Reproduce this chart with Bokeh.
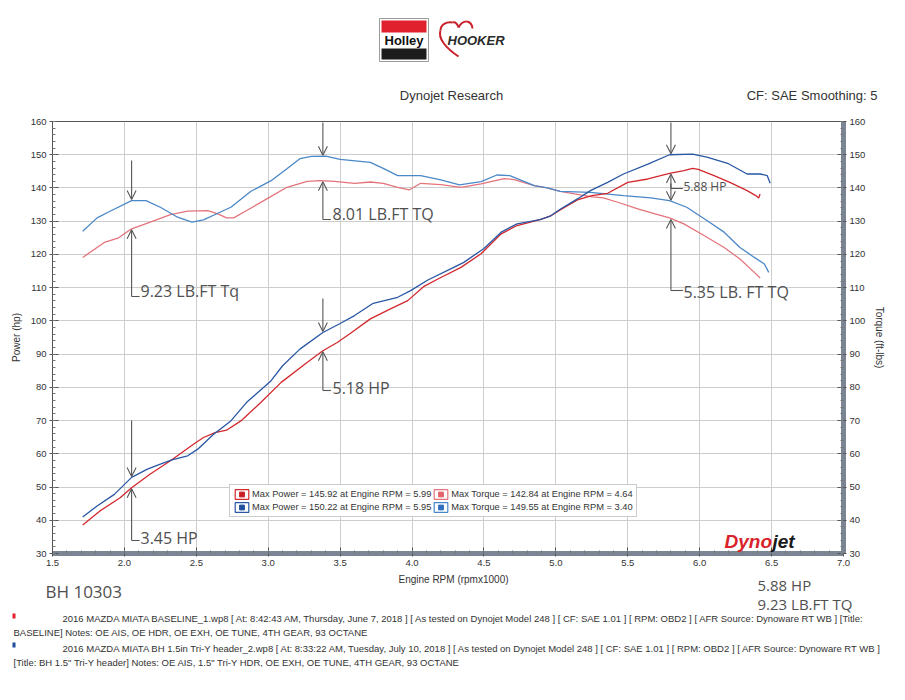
import numpy as np
from bokeh.plotting import figure
from bokeh.models import (Range1d, LinearAxis, FixedTicker, Label, Arrow, OpenHead,
                          Legend, LegendItem)
from bokeh.layouts import column, row
from bokeh.embed import file_html
from bokeh.resources import INLINE
from bokeh.core.properties import value

# ---------------- DATA ----------------
# Blue run (BH 1.5in Tri-Y header) - power
bp_rpm = [1.71, 1.81, 1.93, 2.05, 2.16, 2.25, 2.33, 2.44, 2.51, 2.62, 2.74, 2.85, 3.02, 3.10,
          3.22, 3.38, 3.50, 3.60, 3.73, 3.90, 3.99, 4.11, 4.29, 4.36, 4.50, 4.62, 4.73, 4.89,
          4.96, 5.03, 5.15, 5.24, 5.36, 5.47, 5.64, 5.79, 5.95, 6.05, 6.20, 6.33, 6.42, 6.47, 6.49]
bp_hp = [41.0, 44.3, 47.8, 52.9, 55.4, 56.9, 58.2, 59.4, 61.4, 65.9, 69.9, 75.5, 82.0, 86.5,
         91.5, 96.5, 99.2, 101.6, 105.3, 107.1, 109.1, 112.3, 116.1, 117.6, 121.8, 126.7, 129.2, 130.5,
         131.5, 133.6, 136.7, 139.2, 141.7, 144.2, 147.2, 150.0, 150.2, 149.3, 147.3, 144.2, 144.2, 143.7, 141.4]
# Red run (baseline) - power
rp_rpm = [1.71, 1.83, 1.97, 2.05, 2.18, 2.32, 2.48, 2.55, 2.63, 2.71, 2.81, 2.95, 3.09, 3.27,
          3.38, 3.48, 3.57, 3.71, 3.85, 3.97, 4.08, 4.18, 4.34, 4.48, 4.62, 4.73, 4.89, 4.96,
          5.03, 5.15, 5.25, 5.36, 5.50, 5.64, 5.79, 5.89, 5.95, 5.99, 6.10, 6.21, 6.33, 6.39, 6.41, 6.42]
rp_hp = [38.6, 42.8, 46.8, 49.8, 53.9, 57.9, 62.9, 64.9, 66.4, 67.1, 69.9, 75.5, 81.5, 87.5,
         91.0, 93.5, 96.2, 100.6, 103.6, 106.1, 110.3, 112.6, 116.1, 120.2, 126.2, 128.7, 130.5, 131.5,
         133.4, 136.4, 137.7, 138.4, 141.7, 142.7, 144.4, 145.2, 145.9, 145.6, 143.7, 141.7, 139.2, 137.7, 137.0, 138.2]
# Blue run - torque
bt_rpm = [1.71, 1.81, 1.90, 2.05, 2.15, 2.25, 2.37, 2.47, 2.55, 2.65, 2.74, 2.88, 3.02, 3.13,
          3.22, 3.30, 3.40, 3.50, 3.71, 3.80, 3.90, 4.06, 4.20, 4.33, 4.48, 4.59, 4.68, 4.85,
          4.94, 5.03, 5.24, 5.47, 5.66, 5.79, 5.91, 6.05, 6.17, 6.28, 6.38, 6.45, 6.48]
bt_tq = [127.0, 131.0, 133.0, 136.2, 136.2, 134.2, 131.2, 129.7, 130.4, 132.4, 134.2, 139.0, 142.2, 145.8,
         148.8, 149.5, 149.55, 148.6, 147.7, 145.9, 143.7, 143.7, 142.4, 140.9, 141.9, 143.9, 143.7, 140.7,
         140.0, 139.0, 138.7, 137.7, 137.0, 136.2, 134.2, 130.2, 126.7, 122.1, 119.1, 117.1, 114.6]
# Red run - torque
rt_rpm = [1.71, 1.86, 1.96, 2.05, 2.18, 2.32, 2.44, 2.58, 2.65, 2.71, 2.76, 2.85, 2.99, 3.13,
          3.27, 3.36, 3.46, 3.60, 3.71, 3.80, 3.90, 3.98, 4.06, 4.20, 4.34, 4.48, 4.64, 4.71,
          4.85, 4.94, 5.03, 5.13, 5.24, 5.33, 5.43, 5.57, 5.69, 5.79, 5.89, 6.03, 6.17, 6.28, 6.38, 6.42]
rt_tq = [119.1, 123.6, 125.0, 127.7, 129.7, 132.0, 133.0, 133.2, 132.2, 131.0, 131.0, 133.2, 136.7, 140.2,
         142.0, 142.2, 142.0, 141.4, 141.8, 141.4, 140.2, 139.4, 141.4, 141.0, 140.2, 141.2, 142.84, 142.5,
         140.7, 140.0, 139.0, 138.2, 137.4, 137.0, 135.7, 133.7, 132.2, 131.0, 129.2, 125.7, 122.1, 118.6, 114.6, 112.9]

legend_labels = ["Max Power = 145.92 at Engine RPM = 5.99",
                 "Max Torque = 142.84 at Engine RPM = 4.64",
                 "Max Power = 150.22 at Engine RPM = 5.95",
                 "Max Torque = 149.55 at Engine RPM = 3.40"]
x_ticks = [1.5, 2.0, 2.5, 3.0, 3.5, 4.0, 4.5, 5.0, 5.5, 6.0, 6.5, 7.0]
x_tick_labels = ["1.5", "2.0", "2.5", "3.0", "3.5", "4.0", "4.5", "5.0", "5.5", "6.0", "6.5", "7.0"]
y_ticks = [30, 40, 50, 60, 70, 80, 90, 100, 110, 120, 130, 140, 150, 160]

footer_lines = [
    "2016 MAZDA MIATA BASELINE_1.wp8 [ At: 8:42:43 AM, Thursday, June 7, 2018 ] [ As tested on Dynojet Model 248 ] [ CF: SAE 1.01 ] [ RPM: OBD2 ] [ AFR Source: Dynoware RT WB ] [Title:",
    "BASELINE]  Notes: OE AIS, OE HDR, OE EXH, OE TUNE, 4TH GEAR, 93 OCTANE",
    "2016 MAZDA MIATA BH 1.5in Tri-Y header_2.wp8 [ At: 8:33:22 AM, Tuesday, July 10, 2018 ] [ As tested on Dynojet Model 248 ] [ CF: SAE 1.01 ] [ RPM: OBD2 ] [ AFR Source: Dynoware RT WB ]",
    "[Title: BH 1.5\" Tri-Y header]  Notes: OE AIS, 1.5\" Tri-Y HDR, OE EXH, OE TUNE, 4TH GEAR, 93 OCTANE",
]

# ---------------- STYLE ----------------
FONT = "Liberation Sans"
HAND = "Open Sans"
TXT = "#333333"
PEN = "#555555"
HANDC = "#505050"
BLUE_PWR = "#2957a4"
RED_PWR = "#d3282e"
BLUE_TQ = "#4a88c8"
RED_TQ = "#e4747c"
BAR = "#7c8593"

# page-pixel helpers for decorations inside the chart frame (x 52..843, y 121..553)
def dx(X):
    return 1.5 + (X - 52) * 5.5 / 791.0

def dy(Y):
    return 160 - (Y - 121) * 130.0 / 432.0


def deco_fig(height, y_top):
    f = figure(width=905, height=height, x_range=Range1d(0, 905),
               y_range=Range1d(y_top + height, y_top),
               x_axis_type=None, y_axis_type=None, output_backend="svg", toolbar_location=None,
               min_border=0, outline_line_color=None, background_fill_color="white",
               border_fill_color="white")
    f.grid.visible = False
    return f


def ftext(f, X, Y, txt, size, color=TXT, font=FONT, style="normal", align="left"):
    f.text(x=[X], y=[Y], text=[txt], text_font=value(font), text_font_size=size,
           text_color=color, text_font_style=style, text_align=align, text_baseline="middle")

# ---------------- HEADER ----------------
h = deco_fig(110, 0)
h.quad(left=[379], right=[428], top=[18], bottom=[61], fill_color="white", line_color="#9a9a9a")
h.quad(left=[381], right=[426], top=[20], bottom=[32], fill_color="#e0202c", line_color=None)
h.quad(left=[381], right=[426], top=[48], bottom=[59], fill_color="#1c1c1c", line_color=None)
ftext(h, 403.5, 40, "Holley", "13px", color="#111111", style="bold", align="center")
h.bezier(x0=[458, 440, 452, 458, 466], y0=[56, 30, 22, 27, 21],
         x1=[440, 452, 458, 466, 472], y1=[30, 22, 27, 21, 28],
         cx0=[446, 440, 455, 460, 469], cy0=[48, 24, 21, 23, 21],
         cx1=[437, 446, 457, 463, 472], cy1=[38, 21, 24, 21, 24],
         line_color="#c8202a", line_width=2)
ftext(h, 447, 40, "HOOKER", "13px", color="#2a2a2a", style="bold italic")
ftext(h, 451, 95, "Dynojet Research", "13px", align="center")
ftext(h, 877, 95, "CF: SAE Smoothing: 5", "13px", align="right")

# ---------------- MAIN CHART ----------------
p = figure(frame_width=791, frame_height=432, min_border_left=52, min_border_right=62,
           min_border_top=11, min_border_bottom=19,
           x_range=Range1d(1.5, 7.0), y_range=Range1d(30, 160),
           output_backend="svg", toolbar_location=None,
           background_fill_color="white", border_fill_color="white",
           outline_line_color="#555555", outline_line_width=1)
p.extra_y_ranges = {"tq": Range1d(30, 160)}

xt = FixedTicker(ticks=x_ticks, minor_ticks=list(np.round(np.arange(1.5, 7.0001, 0.1), 2)))
yt = FixedTicker(ticks=y_ticks, minor_ticks=list(range(30, 161, 2)))

xa = p.xaxis[0]
xa.ticker = xt
xa.major_label_overrides = {v: s for v, s in zip(x_ticks, x_tick_labels)}

ya = p.yaxis[0]
ya.ticker = yt
ya.axis_label = "Power (hp)"

yr = LinearAxis(y_range_name="tq", ticker=yt, axis_label="Torque (ft-lbs)")
p.add_layout(yr, "right")

for ax in (xa, ya, yr):
    ax.major_label_text_font = FONT
    ax.major_label_text_font_size = "9.5px"
    ax.major_label_text_color = TXT
    ax.axis_label_text_font = FONT
    ax.axis_label_text_font_size = "10px"
    ax.axis_label_text_font_style = "normal"
    ax.axis_label_text_color = TXT
    ax.major_tick_line_color = "#555555"
    ax.minor_tick_line_color = "#777777"
    ax.major_tick_in = 6
    ax.major_tick_out = 3
    ax.minor_tick_in = 3
    ax.minor_tick_out = 0
    ax.major_label_standoff = 3
    ax.axis_label_standoff = 6
xa.axis_line_color = BAR
xa.axis_line_width = 5
yr.axis_line_color = BAR
yr.axis_line_width = 5
ya.axis_line_color = "#555555"
ya.axis_line_width = 1

p.xgrid.ticker = xt
p.ygrid.ticker = yt
p.xgrid.grid_line_color = "#cdcdcd"
p.ygrid.grid_line_color = "#cdcdcd"

lw = 1.3
p.line(rt_rpm, rt_tq, line_color=RED_TQ, line_width=lw, y_range_name="tq")
p.line(bt_rpm, bt_tq, line_color=BLUE_TQ, line_width=lw, y_range_name="tq")
p.line(rp_rpm, rp_hp, line_color=RED_PWR, line_width=lw)
p.line(bp_rpm, bp_hp, line_color=BLUE_PWR, line_width=lw)

# legend: icon-only renderers placed outside the visible range (never shown in the plot)
items = []
for lab, outline, fill in zip(legend_labels,
                              ["#d3282e", "#e4747c", "#2957a4", "#4a88c8"],
                              ["#c81e24", "#e4646c", "#1f4f9e", "#2f6fc0"]):
    rb = p.quad(left=[0.0], right=[0.1], top=[0.0], bottom=[-1.0], fill_color="white",
                line_color=outline, line_width=1.2)
    rs = p.scatter(x=[0.0], y=[0.0], marker="square", fill_color=fill, line_color=fill, size=5)
    items.append(LegendItem(label=lab, renderers=[rb, rs]))
leg = Legend(items=items, location=(177, 36), orientation="horizontal", ncols=2,
             label_text_font=FONT, label_text_font_size="9.3px", label_text_color=TXT,
             glyph_width=17, glyph_height=12, label_height=12, label_standoff=2,
             padding=3, spacing=1, margin=0, border_line_color="#999999",
             background_fill_color="white", background_fill_alpha=1.0)
p.add_layout(leg, "center")

# handwritten-style annotations
def head(s=9):
    return OpenHead(size=s, line_color=PEN, line_width=1.1)

def down_arrow(x, y_from, y_to):
    p.add_layout(Arrow(end=head(), x_start=x, y_start=y_from, x_end=x, y_end=y_to,
                       line_color=PEN, line_width=1.1))

def up_arrow_L(x, y_from, y_to, foot_px=8):
    p.add_layout(Arrow(end=head(), x_start=x, y_start=y_from, x_end=x, y_end=y_to,
                       line_color=PEN, line_width=1.1))
    p.add_layout(Arrow(end=None, x_start=x, y_start=y_from, x_end=x + foot_px * 5.5 / 791.0,
                       y_end=y_from, line_color=PEN, line_width=1.1))

def hand(x, y, txt, size="16px"):
    p.add_layout(Label(x=x, y=y, text=txt, text_font=HAND, text_font_size=size,
                       text_color=HANDC, text_baseline="middle"))

# 2.05 krpm torque
r = 2.05
down_arrow(r, dy(160), float(np.interp(r, bt_rpm, bt_tq)) + 0.3)
up_arrow_L(r, dy(296), float(np.interp(r, rt_rpm, rt_tq)) - 0.3)
hand(dx(140), dy(290), "9.23 LB.FT Tq")
# 2.05 krpm power
down_arrow(r, dy(420), float(np.interp(r, bp_rpm, bp_hp)) + 0.3)
up_arrow_L(r, dy(540), float(np.interp(r, rp_rpm, rp_hp)) - 0.3)
hand(dx(140), dy(537), "3.45 HP")
# 3.38 krpm torque
r = 3.38
down_arrow(r, dy(122), float(np.interp(r, bt_rpm, bt_tq)) + 0.3)
up_arrow_L(r, dy(219), float(np.interp(r, rt_rpm, rt_tq)) - 0.3)
hand(dx(332), dy(213), "8.01 LB.FT TQ")
# 3.38 krpm power
down_arrow(r, dy(298), float(np.interp(r, bp_rpm, bp_hp)) + 0.3)
up_arrow_L(r, dy(390), float(np.interp(r, rp_rpm, rp_hp)) - 0.3)
hand(dx(332), dy(387), "5.18 HP")
# 5.80 krpm power
r = 5.80
down_arrow(r, dy(122), float(np.interp(r, bp_rpm, bp_hp)) + 0.3)
up_arrow_L(r, dy(188), float(np.interp(r, rp_rpm, rp_hp)) - 0.3, foot_px=12)
hand(dx(683), dy(186), "5.88 HP", size="12px")
# 5.80 krpm torque
down_arrow(r, dy(183), float(np.interp(r, bt_rpm, bt_tq)) + 0.3)
up_arrow_L(r, dy(290), float(np.interp(r, rt_rpm, rt_tq)) - 0.3, foot_px=12)
hand(dx(683), dy(291), "5.35 LB. FT TQ")

# Dynojet logo
p.add_layout(Label(x=dx(724), y=dy(541), text="Dyno", text_font=FONT, text_font_style="bold italic",
                   text_font_size="19px", text_color="#d8232a", text_baseline="middle"))
p.add_layout(Label(x=dx(772), y=dy(541), text="jet", text_font=FONT, text_font_style="bold italic",
                   text_font_size="19px", text_color="#1a1a1a", text_baseline="middle"))

# ---------------- FOOTER ----------------
f = deco_fig(128, 572)
ftext(f, 453, 579, "Engine RPM (rpmx1000)", "10px", align="center")
ftext(f, 45, 591, "BH 10303", "17px", color=HANDC, font=HAND)
ftext(f, 757, 584, "5.88 HP", "15px", color=HANDC, font=HAND)
ftext(f, 757, 603, "9.23 LB.FT TQ", "15px", color=HANDC, font=HAND)
f.quad(left=[12], right=[15], top=[613], bottom=[618], fill_color="#e0202c", line_color=None)
f.quad(left=[12], right=[15], top=[642], bottom=[647], fill_color="#1f4f9e", line_color=None)
for (X, Y), line in zip([(62, 618), (13, 632), (62, 648), (13, 662)], footer_lines):
    ftext(f, X, Y, line, "9.5px")

layout = column(row(h), row(p), row(f), spacing=0)
open("out.html", "w").write(file_html(layout, INLINE))
